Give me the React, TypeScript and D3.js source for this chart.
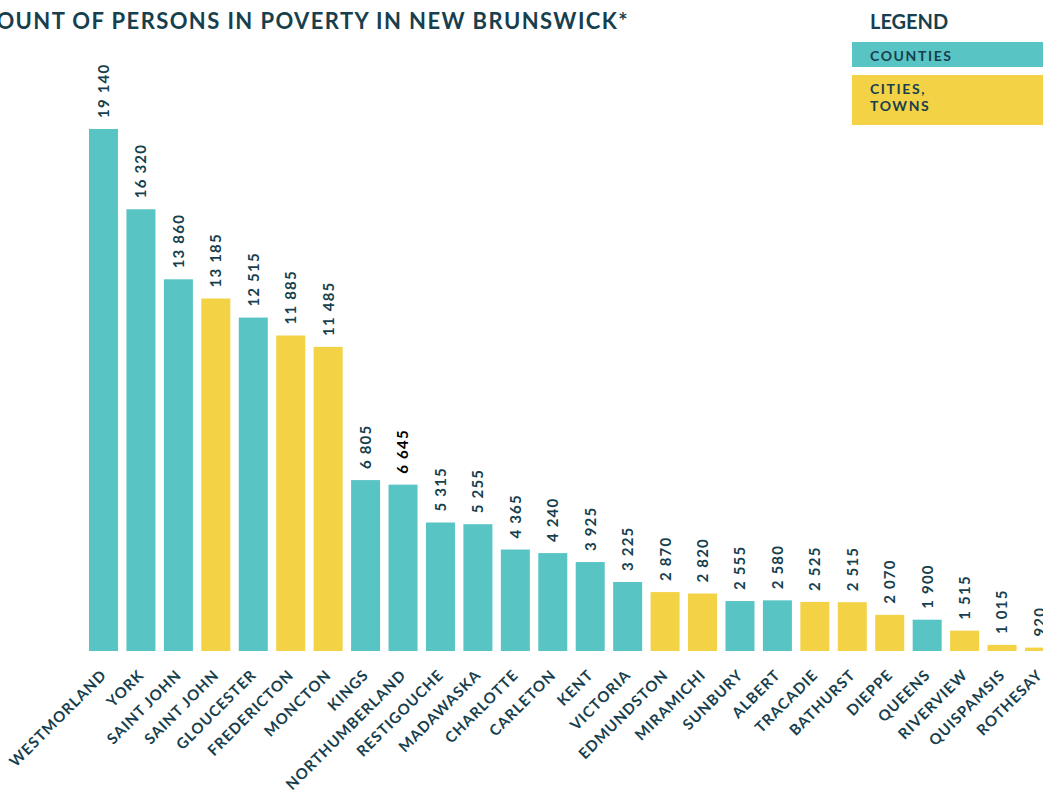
import React, { useEffect, useRef } from 'react';
import * as d3 from 'd3';

const places = [
  'WESTMORLAND', 'YORK', 'SAINT JOHN', 'SAINT JOHN', 'GLOUCESTER', 'FREDERICTON', 'MONCTON',
  'KINGS', 'NORTHUMBERLAND', 'RESTIGOUCHE', 'MADAWASKA', 'CHARLOTTE', 'CARLETON', 'KENT',
  'VICTORIA', 'EDMUNDSTON', 'MIRAMICHI', 'SUNBURY', 'ALBERT', 'TRACADIE', 'BATHURST',
  'DIEPPE', 'QUEENS', 'RIVERVIEW', 'QUISPAMSIS', 'ROTHESAY',
];
const persons = [
  19140, 16320, 13860, 13185, 12515, 11885, 11485, 6805, 6645, 5315, 5255, 4365, 4240, 3925,
  3225, 2870, 2820, 2555, 2580, 2525, 2515, 2070, 1900, 1515, 1015, 920,
];
const kinds = [
  'county', 'county', 'county', 'city', 'county', 'city', 'city', 'county', 'county', 'county',
  'county', 'county', 'county', 'county', 'county', 'city', 'city', 'county', 'county', 'city',
  'city', 'city', 'county', 'city', 'city', 'city',
];
const legendItems = [
  { kind: 'county', lines: ['COUNTIES'] },
  { kind: 'city', lines: ['CITIES,', 'TOWNS'] },
];

const TEAL = '#59c4c4';
const YELLOW = '#f3d246';
const INK = '#173f4e';
const FONT = 'Lato, "Noto Sans", sans-serif';

const App = () => {
  const svgRef = useRef(null);

  useEffect(() => {
    const width = 1043;
    const height = 802;
    const baseline = 651;

    const svg = d3.select(svgRef.current)
      .attr('width', width)
      .attr('height', height)
      .style('font-family', FONT);
    svg.selectAll('*').remove();

    const data = places.map((name, i) => ({ name, value: persons[i], kind: kinds[i], i }));

    const x = d3.scaleBand()
      .domain(data.map(d => String(d.i)))
      .range([84.8, 1058.2])
      .paddingInner(0.225)
      .paddingOuter(0.1125);

    // the bars in the original do not start at zero
    const y = d3.scaleLinear()
      .domain([800, 19140])
      .range([baseline, 129]);

    const color = d3.scaleOrdinal().domain(['county', 'city']).range([TEAL, YELLOW]);

    const fmt = d3.formatLocale({ decimal: '.', thousands: ' ', grouping: [3], currency: ['', ''] }).format(',');

    // title (starts off the left edge in the original)
    svg.append('text')
      .attr('x', 629)
      .attr('y', 29)
      .attr('text-anchor', 'end')
      .style('font-size', '22px')
      .style('font-weight', 'bold')
      .style('letter-spacing', '1.4px')
      .style('fill', INK)
      .text('COUNT OF PERSONS IN POVERTY IN NEW BRUNSWICK*');

    svg.selectAll('.bar')
      .data(data)
      .enter()
      .append('rect')
      .attr('class', 'bar')
      .attr('x', d => x(String(d.i)))
      .attr('y', d => y(d.value))
      .attr('width', x.bandwidth())
      .attr('height', d => baseline - y(d.value))
      .attr('fill', d => color(d.kind));

    // value labels above bars
    svg.selectAll('.val')
      .data(data)
      .enter()
      .append('text')
      .attr('class', 'val')
      .attr('transform', d => `translate(${x(String(d.i)) + x.bandwidth() / 2},${y(d.value) - 11}) rotate(-90)`)
      .attr('dy', '0.36em')
      .style('font-size', '15px')
      .style('font-weight', 'bold')
      .style('letter-spacing', '1.2px')
      .style('fill', d => (d.name === 'NORTHUMBERLAND' ? '#000' : INK))
      .text(d => fmt(d.value));

    // category labels
    svg.selectAll('.cat')
      .data(data)
      .enter()
      .append('text')
      .attr('class', 'cat')
      .attr('transform', d => `translate(${x(String(d.i)) + x.bandwidth() / 2 + 4},${676}) rotate(-45)`)
      .attr('text-anchor', 'end')
      .style('font-size', '15px')
      .style('font-weight', 'bold')
      .style('letter-spacing', '1px')
      .style('fill', INK)
      .text(d => d.name);

    // legend
    const legend = svg.append('g');
    legend.append('text')
      .attr('x', 870)
      .attr('y', 29)
      .style('font-size', '20px')
      .style('font-weight', 'bold')
      .style('fill', INK)
      .text('LEGEND');

    const boxY = [42, 75];
    const boxH = [25, 50];
    legendItems.forEach((item, k) => {
      legend.append('rect')
        .attr('x', 852)
        .attr('y', boxY[k])
        .attr('width', 191)
        .attr('height', boxH[k])
        .attr('fill', color(item.kind));
      item.lines.forEach((line, j) => {
        legend.append('text')
          .attr('x', 870)
          .attr('y', boxY[k] + 19 + j * 17)
          .style('font-size', '14px')
          .style('font-weight', 'bold')
          .style('letter-spacing', '1.6px')
          .style('fill', INK)
          .text(line);
      });
    });
  }, []);

  return (
    <div style={{ position: 'absolute', left: 0, top: 0 }}>
      <svg ref={svgRef} style={{ display: 'block' }}></svg>
    </div>
  );
};

export default App;
